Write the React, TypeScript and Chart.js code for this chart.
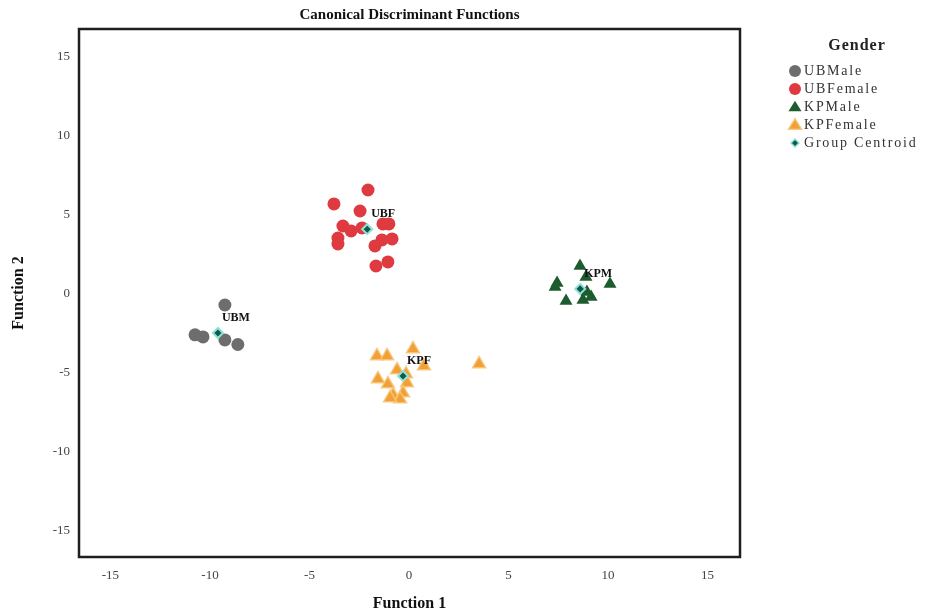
import React, { useEffect, useRef } from "react";
import { Chart, registerables } from "chart.js";

Chart.register(...registerables);

// ---- Data ----
const ubMaleX = [-9.25, -10.75, -10.35, -9.25, -8.6];
const ubMaleY = [-0.7, -2.59, -2.72, -2.91, -3.2];

const ubFemaleX = [-2.06, -3.77, -2.46, -3.32, -2.91, -3.57, -3.57, -1.31, -1.01, -0.85, -1.36, -1.71, -1.06, -1.66, -2.36];
const ubFemaleY = [6.58, 5.7, 5.25, 4.3, 3.99, 3.54, 3.16, 4.43, 4.43, 3.48, 3.42, 3.04, 2.03, 1.77, 4.18];

const kpMaleX = [8.59, 7.44, 7.34, 8.89, 10.1, 7.89, 8.74, 9.15, 8.94];
const kpMaleY = [1.77, 0.7, 0.44, 1.08, 0.63, -0.44, -0.38, -0.19, 0.13];

const kpFemaleX = [0.2, -1.61, -1.1, 3.52, -0.6, 0.75, -1.56, -1.06, -0.1, -0.8, -0.3, -0.45, -0.95, -0.15];
const kpFemaleY = [-3.48, -3.92, -3.92, -4.43, -4.81, -4.56, -5.38, -5.7, -5.63, -6.39, -6.27, -6.65, -6.58, -5.06];

const centroidX = [-9.6, -2.1, 8.6, -0.3];
const centroidY = [-2.47, 4.1, 0.32, -5.19];
const centroidLabels = ["UBM", "UBF", "KPM", "KPF"];

const legendTitle = "Gender";
const legendLabels = ["UBMale", "UBFemale", "KPMale", "KPFemale", "Group Centroid"];

const xTicks = [-15, -10, -5, 0, 5, 10, 15];
const yTicks = [-15, -10, -5, 0, 5, 10, 15];

const chartTitle = "Canonical Discriminant Functions";
const xTitle = "Function 1";
const yTitle = "Function 2";

// ---- Styles ----
const SERIF = "'Liberation Serif', 'Times New Roman', serif";
const colors = {
  ubMale: "#6d6d6d",
  ubFemale: "#de3a40",
  kpMale: "#1c5c2e",
  kpFemale: "#f0a035",
  kpFemaleBorder: "rgba(248,196,120,0.9)",
  centroid: "#0f5a4f",
  centroidBorder: "#8fe2d4",
};

const toPts = (xs: number[], ys: number[]) => xs.map((x, i) => ({ x, y: ys[i] }));

function drawMarker(ctx: CanvasRenderingContext2D, kind: string, x: number, y: number, r: number, fill: string, stroke?: string) {
  ctx.beginPath();
  if (kind === "circle") {
    ctx.arc(x, y, r, 0, Math.PI * 2);
  } else if (kind === "triangle") {
    const h = r * 1.6;
    ctx.moveTo(x, y - h * 0.6);
    ctx.lineTo(x + r, y + h * 0.4);
    ctx.lineTo(x - r, y + h * 0.4);
    ctx.closePath();
  } else {
    ctx.moveTo(x, y - r);
    ctx.lineTo(x + r, y);
    ctx.lineTo(x, y + r);
    ctx.lineTo(x - r, y);
    ctx.closePath();
  }
  ctx.fillStyle = fill;
  ctx.fill();
  if (stroke) {
    ctx.strokeStyle = stroke;
    ctx.lineWidth = 1.5;
    ctx.stroke();
  }
}

const customPlugin = {
  id: "customDecor",
  afterDatasetsDraw(chart: any) {
    const { ctx, chartArea: a, scales } = chart;
    const xs = scales.x;
    const ys = scales.y;
    ctx.save();
    // frame
    ctx.strokeStyle = "#1e1e1e";
    ctx.lineWidth = 2.5;
    ctx.strokeRect(a.left, a.top, a.right - a.left, a.bottom - a.top);

    // centroid labels
    ctx.font = `bold 12px ${SERIF}`;
    ctx.fillStyle = "#111";
    ctx.textAlign = "left";
    ctx.textBaseline = "middle";
    centroidLabels.forEach((lab, i) => {
      const px = xs.getPixelForValue(centroidX[i]);
      const py = ys.getPixelForValue(centroidY[i]);
      ctx.fillText(lab, px + 4, py - 15);
    });

    // legend
    const lx = 795;
    ctx.font = `bold 16px ${SERIF}`;
    ctx.textAlign = "center";
    ctx.fillStyle = "#222";
    (ctx as any).letterSpacing = "1px";
    ctx.fillText(legendTitle, 857, 46);
    const kinds = ["circle", "circle", "triangle", "triangle", "diamond"];
    const fills = [colors.ubMale, colors.ubFemale, colors.kpMale, colors.kpFemale, colors.centroid];
    const strokes = [undefined, undefined, undefined, colors.kpFemaleBorder, colors.centroidBorder];
    const radii = [6, 6, 6.5, 6.5, 4];
    ctx.font = `14px ${SERIF}`;
    (ctx as any).letterSpacing = "1.8px";
    ctx.textAlign = "left";
    legendLabels.forEach((lab, i) => {
      const yy = 71 + i * 18;
      drawMarker(ctx, kinds[i], lx, yy, radii[i], fills[i], strokes[i]);
      ctx.fillStyle = "#333";
      ctx.fillText(lab, 804, yy);
    });
    (ctx as any).letterSpacing = "0px";
    ctx.restore();
  },
};

export default function App() {
  const canvasRef = useRef<HTMLCanvasElement | null>(null);

  useEffect(() => {
    if (!canvasRef.current) return;
    const tickFont = { family: SERIF, size: 13 };
    const titleFont = { family: SERIF, size: 16, weight: "bold" as const };
    const chart = new Chart(canvasRef.current, {
      type: "scatter",
      data: {
        datasets: [
          {
            label: legendLabels[4],
            data: toPts(centroidX, centroidY),
            pointStyle: "rectRot",
            pointRadius: 5,
            backgroundColor: colors.centroid,
            borderColor: colors.centroidBorder,
            borderWidth: 2,
            order: 0,
          },
          {
            label: legendLabels[0],
            data: toPts(ubMaleX, ubMaleY),
            pointStyle: "circle",
            pointRadius: 6.5,
            backgroundColor: colors.ubMale,
            borderColor: colors.ubMale,
            borderWidth: 0,
            order: 1,
          },
          {
            label: legendLabels[1],
            data: toPts(ubFemaleX, ubFemaleY),
            pointStyle: "circle",
            pointRadius: 6.5,
            backgroundColor: colors.ubFemale,
            borderColor: colors.ubFemale,
            borderWidth: 0,
            order: 1,
          },
          {
            label: legendLabels[2],
            data: toPts(kpMaleX, kpMaleY),
            pointStyle: "triangle",
            pointRadius: 7.5,
            backgroundColor: colors.kpMale,
            borderColor: colors.kpMale,
            borderWidth: 0,
            order: 1,
          },
          {
            label: legendLabels[3],
            data: toPts(kpFemaleX, kpFemaleY),
            pointStyle: "triangle",
            pointRadius: 7.5,
            backgroundColor: colors.kpFemale,
            borderColor: colors.kpFemaleBorder,
            borderWidth: 1.5,
            order: 1,
          },
        ],
      },
      options: {
        animation: false,
        responsive: true,
        maintainAspectRatio: false,
        layout: { padding: { left: 0, right: 194, top: 0, bottom: 0 } },
        plugins: {
          legend: { display: false },
          tooltip: { enabled: false },
          title: {
            display: true,
            text: chartTitle,
            fullSize: false,
            color: "#111",
            font: { family: SERIF, size: 15, weight: "bold" },
            padding: { top: 6, bottom: 5 },
          },
        },
        scales: {
          x: {
            type: "linear",
            min: -16.58,
            max: 16.63,
            grid: { display: false, drawTicks: false },
            border: { display: false },
            afterBuildTicks: (s: any) => {
              s.ticks = xTicks.map((v) => ({ value: v }));
            },
            afterFit: (s: any) => {
              s.height = 58;
            },
            ticks: { font: tickFont, color: "#444", padding: 11 },
            title: {
              display: true,
              text: xTitle,
              color: "#111",
              font: titleFont,
              padding: { top: 4, bottom: 2 },
            },
          },
          y: {
            type: "linear",
            min: -16.65,
            max: 16.77,
            grid: { display: false, drawTicks: false },
            border: { display: false },
            afterBuildTicks: (s: any) => {
              s.ticks = yTicks.map((v) => ({ value: v }));
            },
            afterFit: (s: any) => {
              s.width = 79;
            },
            ticks: { font: tickFont, color: "#444", padding: 9 },
            title: {
              display: true,
              text: yTitle,
              color: "#111",
              font: titleFont,
              padding: { top: 9, bottom: 0 },
            },
          },
        },
      },
      plugins: [customPlugin],
    });
    return () => chart.destroy();
  }, []);

  return (
    <div style={{ position: "absolute", left: 0, top: 0, width: 934, height: 615, background: "#fff" }}>
      <canvas ref={canvasRef} />
    </div>
  );
}
